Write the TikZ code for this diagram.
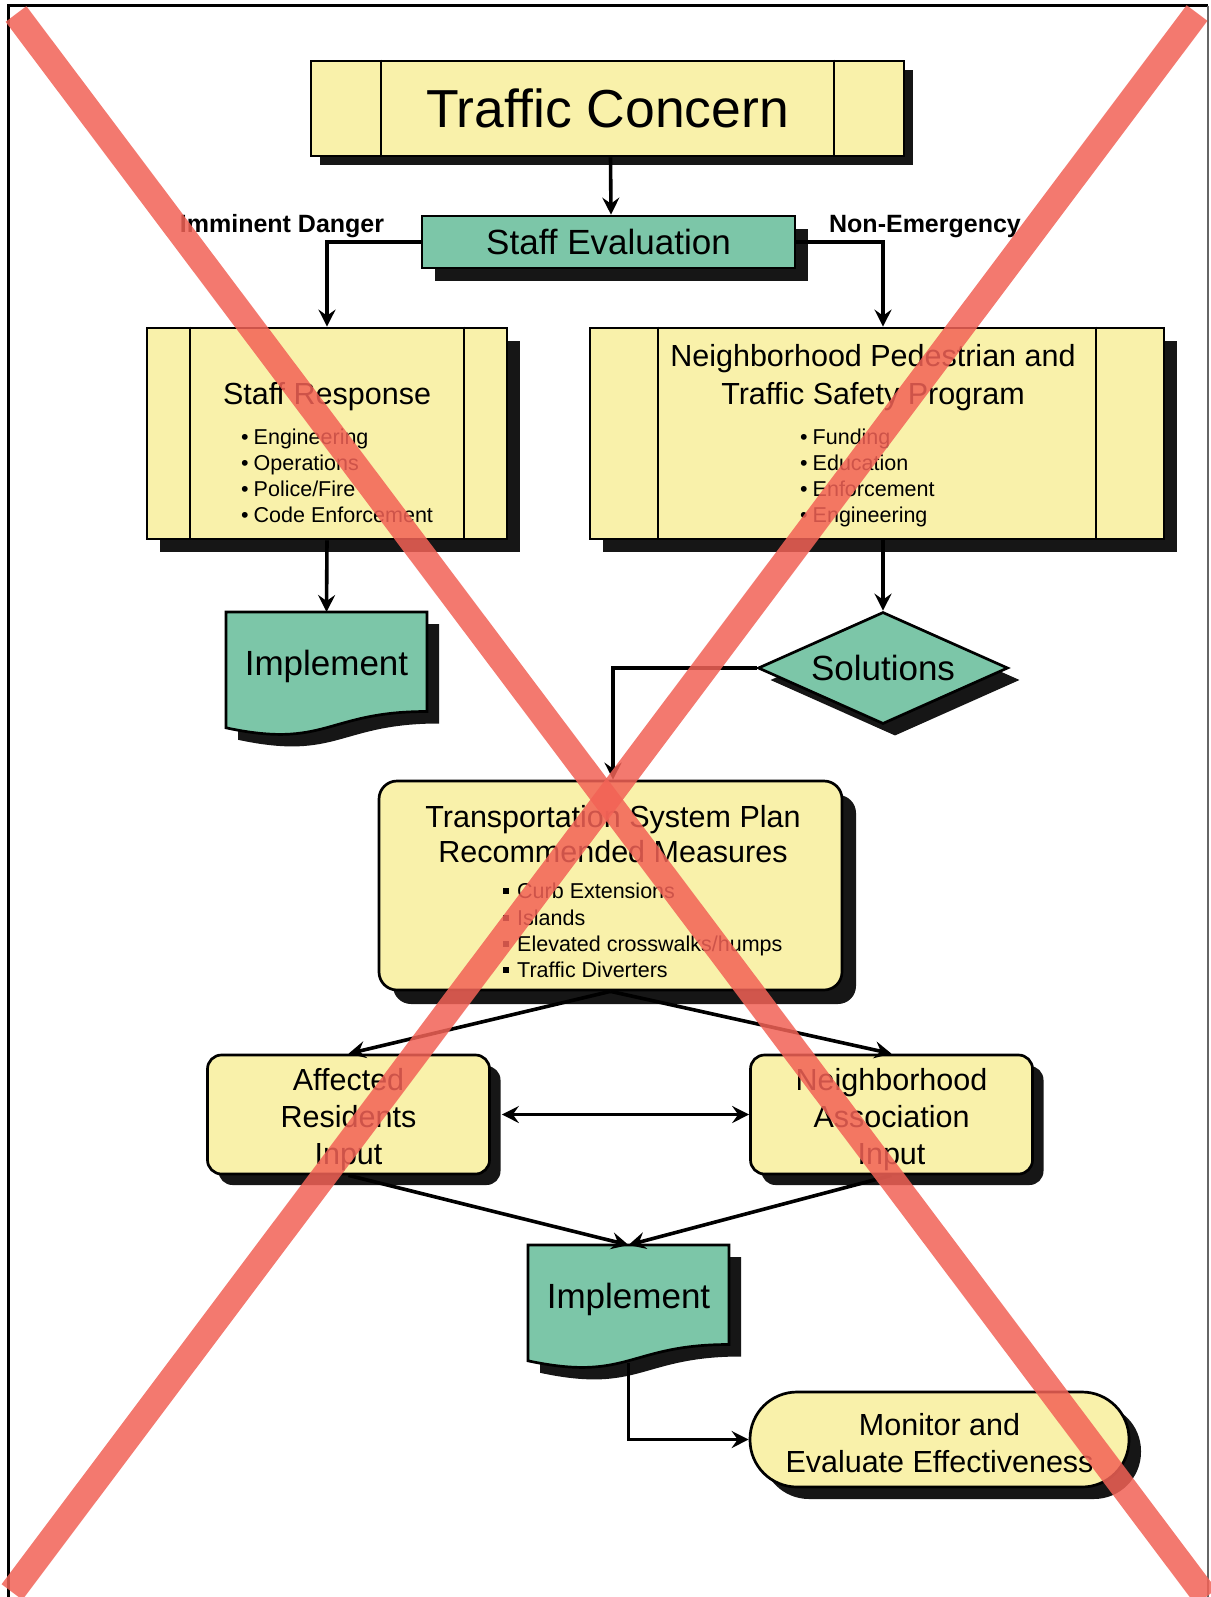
\documentclass[tikz,border=0pt]{standalone}
\usepackage{fontspec}
\setmainfont{Liberation Sans}
\usetikzlibrary{shapes.geometric,shadows,arrows.meta}
\definecolor{boxyellow}{RGB}{249,241,170}
\definecolor{boxteal}{RGB}{124,198,168}
\definecolor{shadowc}{RGB}{22,22,22}
\definecolor{xred}{RGB}{242,98,86}
\newcommand{\sz}[2][1.2]{\fontsize{#2}{#2}\selectfont}
\tikzset{
  shad/.style={drop shadow={shadow xshift=#1,shadow yshift=-#1,fill=shadowc,opacity=1}},
  shad/.default=13pt,
  ybox/.style={draw=black,line width=2.7pt,fill=boxyellow,inner sep=0pt},
  tbox/.style={draw=black,line width=2.7pt,fill=boxteal,inner sep=0pt},
  bline/.style={line width=2.2pt},
  txt/.style={inner sep=0pt},
  conn/.style={line width=3.6pt,-{Stealth[length=17pt,width=17pt,inset=6pt]}},
  dconn/.style={line width=3.6pt,{Stealth[length=17pt,width=17pt,inset=6pt]}-{Stealth[length=17pt,width=17pt,inset=6pt]}},
  lbl/.style={inner sep=0pt,font=\bfseries\fontsize{25}{25}\selectfont},
  redx/.style={draw=xred,line width=26pt,opacity=0.85}
}
\begin{document}
\begin{tikzpicture}[x=1pt,y=-1pt]
\useasboundingbox (0,0) rectangle (1210,1597);
\fill[white] (0,0) rectangle (1210,1597);
% frame
\draw[line width=3pt] (8,1597) -- (8,6) -- (1208,6);
\draw[line width=1.5pt,black!60] (1208,6) -- (1208,1597);

% Traffic Concern
\node[ybox,shad=9pt,minimum width=593pt,minimum height=95pt,font=\sz{53.5}] (tc) at (607.5,108.5) {Traffic Concern};
\draw[bline] ([xshift=71pt]tc.north west) -- ([xshift=71pt]tc.south west);
\draw[bline] ([xshift=-71pt]tc.north east) -- ([xshift=-71pt]tc.south east);

% Staff Evaluation
\node[tbox,shad=13pt,minimum width=373pt,minimum height=52pt,font=\sz{35}] (se) at (608.5,242) {Staff Evaluation};

% Staff Response
\node[ybox,shad=13pt,minimum width=360pt,minimum height=211pt] (sr) at (327,433.5) {};
\draw[bline] ([xshift=44pt]sr.north west) -- ([xshift=44pt]sr.south west);
\draw[bline] ([xshift=-44pt]sr.north east) -- ([xshift=-44pt]sr.south east);
\node[txt,anchor=base,font=\sz{30.5}] (srt) at (327,404) {Staff Response};
\node[txt,anchor=base west,font=\sz{21.5}] (sr1) at (241,444) {•\hspace{5pt}Engineering};
\node[txt,anchor=base west,font=\sz{21.5}] (sr2) at (241,470) {•\hspace{5pt}Operations};
\node[txt,anchor=base west,font=\sz{21.5}] (sr3) at (241,496) {•\hspace{5pt}Police/Fire};
\node[txt,anchor=base west,font=\sz{21.5}] (sr4) at (241,522) {•\hspace{5pt}Code Enforcement};

% Neighborhood program
\node[ybox,shad=13pt,minimum width=574pt,minimum height=211pt] (np) at (877,433.5) {};
\draw[bline] ([xshift=69pt]np.north west) -- ([xshift=69pt]np.south west);
\draw[bline] ([xshift=-69pt]np.north east) -- ([xshift=-69pt]np.south east);
\node[txt,anchor=base,font=\sz{30.5}] (npt1) at (873,366) {Neighborhood Pedestrian and};
\node[txt,anchor=base,font=\sz{30.5}] (npt2) at (873,404) {Traffic Safety Program};
\node[txt,anchor=base west,font=\sz{21.5}] (np1) at (800,444) {•\hspace{5pt}Funding};
\node[txt,anchor=base west,font=\sz{21.5}] (np2) at (800,470) {•\hspace{5pt}Education};
\node[txt,anchor=base west,font=\sz{21.5}] (np3) at (800,496) {•\hspace{5pt}Enforcement};
\node[txt,anchor=base west,font=\sz{21.5}] (np4) at (800,522) {•\hspace{5pt}Engineering};

% Implement (left) document shape
\fill[shadowc,shift={(12,12)}] (226,612) -- (427,612) -- (427,711.5) .. controls (326.5,711.5) and (326.5,749.3) .. (226,727.8) -- cycle;
\filldraw[fill=boxteal,draw=black,line width=2.7pt] (226,612) -- (427,612) -- (427,711.5) .. controls (326.5,711.5) and (326.5,749.3) .. (226,727.8) -- cycle;
\node[txt,minimum width=201pt,minimum height=108pt,anchor=north,font=\sz{35}] (imp1) at (326.5,612) {Implement};

% Solutions
\node[diamond,tbox,shad=12pt,aspect=2.27,minimum width=250pt,minimum height=112pt,font=\sz{35}] (sol) at (883,668) {Solutions};

% TSP
\node[ybox,shad=14pt,rounded corners=18pt,minimum width=463pt,minimum height=209pt] (tsp) at (610.5,885.5) {};
\node[txt,anchor=base,font=\sz{30.5}] (tspt1) at (613,827) {Transportation System Plan};
\node[txt,anchor=base,font=\sz{30.5}] (tspt2) at (613,862) {Recommended Measures};
\node[txt,anchor=base west,font=\sz{21.5}] (tsp1) at (503,898) {\rule[4pt]{6pt}{6pt}\hspace{8pt}Curb Extensions};
\node[txt,anchor=base west,font=\sz{21.5}] (tsp2) at (503,925) {\rule[4pt]{6pt}{6pt}\hspace{8pt}Islands};
\node[txt,anchor=base west,font=\sz{21.5}] (tsp3) at (503,951) {\rule[4pt]{6pt}{6pt}\hspace{8pt}Elevated crosswalks/humps};
\node[txt,anchor=base west,font=\sz{21.5}] (tsp4) at (503,977) {\rule[4pt]{6pt}{6pt}\hspace{8pt}Traffic Diverters};

% Affected Residents / Neighborhood Association
\node[ybox,shad=11pt,rounded corners=14pt,minimum width=282pt,minimum height=119pt,align=center,font=\fontsize{30.5}{37}\selectfont] (ar) at (348.5,1114.5) {\rule{0pt}{32pt}Affected\\Residents\\Input};
\node[ybox,shad=11pt,rounded corners=14pt,minimum width=282pt,minimum height=119pt,align=center,font=\fontsize{30.5}{37}\selectfont] (na) at (891.5,1114.5) {\rule{0pt}{32pt}Neighborhood\\Association\\Input};

% Implement (bottom) document shape
\fill[shadowc,shift={(12,12)}] (528,1245) -- (729,1245) -- (729,1344.5) .. controls (628.5,1344.5) and (628.5,1382.3) .. (528,1360.8) -- cycle;
\filldraw[fill=boxteal,draw=black,line width=2.7pt] (528,1245) -- (729,1245) -- (729,1344.5) .. controls (628.5,1344.5) and (628.5,1382.3) .. (528,1360.8) -- cycle;
\node[txt,minimum width=201pt,minimum height=108pt,anchor=north,font=\sz{35}] (imp2) at (628.5,1245) {Implement};

% Monitor
\node[ybox,shad=12pt,rounded corners=47pt,minimum width=379pt,minimum height=95pt,align=center,font=\fontsize{30.5}{37}\selectfont] (mon) at (939.5,1439.5) {\rule{0pt}{30pt}Monitor and\\Evaluate Effectiveness};

% labels
\node[lbl,anchor=base] (lid) at (282,233) {Imminent Danger};
\node[lbl,anchor=base] (lne) at (925,233) {Non-Emergency};

% connectors
\draw[conn] ([xshift=3pt]tc.south) -- ([xshift=2.5pt]se.north);
\draw[conn] (se.west) -| (sr.north);
\draw[conn] (se.east) -| ([xshift=6pt]np.north);
\draw[conn] (sr.south) -- (imp1.north);
\draw[conn] ([xshift=6pt]np.south) -- (sol.north);
\draw[conn] (sol.west) -| ([xshift=2.5pt]tsp.north);
\draw[conn] (tsp.south) -- (ar.north);
\draw[conn] (tsp.south) -- (na.north);
\draw[dconn] ([xshift=11pt]ar.east) -- (na.west);
\draw[conn] (ar.south) -- (imp2.north);
\draw[conn] (na.south) -- (imp2.north);
\draw[conn] ([yshift=-10pt]imp2.south) |- (mon.west);

% red cross
\draw[redx] (16,14) -- (1206,1597);
\draw[redx] (1197,13) -- (12,1592);
\end{tikzpicture}
\end{document}
